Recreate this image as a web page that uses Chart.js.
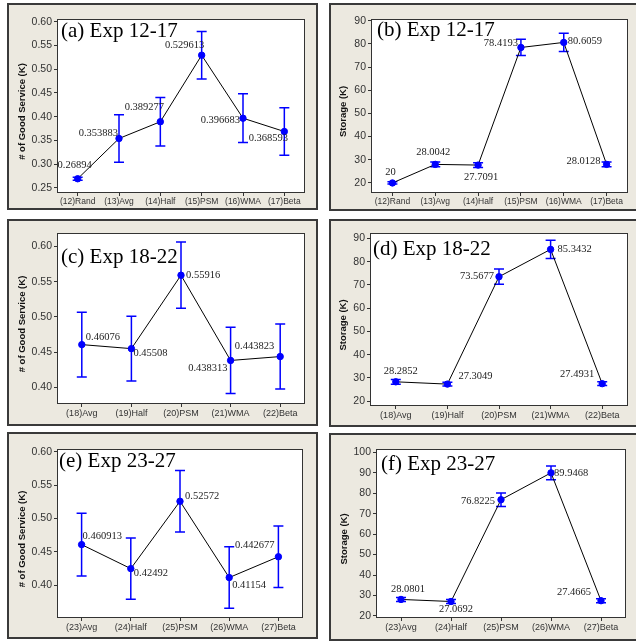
<!DOCTYPE html>
<html>
<head>
<meta charset="utf-8">
<script src="https://cdn.jsdelivr.net/npm/chart.js@4.4.0/dist/chart.umd.min.js"></script>
<style>
html, body { margin: 0; padding: 0; background: #fff; overflow: hidden; width: 636px; height: 641px; }
.panel { position: absolute; box-sizing: border-box; background: #ece9e0; border: 2px solid #3a3a3a; }
.panel canvas { position: absolute; left: 0; top: 0; }
</style>
</head>
<body>
<div id="pa" class="panel"><canvas></canvas></div>
<div id="pb" class="panel"><canvas></canvas></div>
<div id="pc" class="panel"><canvas></canvas></div>
<div id="pd" class="panel"><canvas></canvas></div>
<div id="pe" class="panel"><canvas></canvas></div>
<div id="pf" class="panel"><canvas></canvas></div>
<script>
// categories
const cats1217 = ['(12)Rand', '(13)Avg', '(14)Half', '(15)PSM', '(16)WMA', '(17)Beta'];
const cats1822 = ['(18)Avg', '(19)Half', '(20)PSM', '(21)WMA', '(22)Beta'];
const cats2327 = ['(23)Avg', '(24)Half', '(25)PSM', '(26)WMA', '(27)Beta'];

// exp 12-17
const good1217 = [0.26894, 0.353883, 0.389277, 0.529613, 0.396683, 0.368593];
const goodErr1217 = [0.003, 0.05, 0.051, 0.05, 0.0515, 0.05];
const stor1217 = [20, 28.0042, 27.7091, 78.4193, 80.6059, 28.0128];
const storErr1217 = [0.5, 1, 1, 3.5, 3.9, 1];

// exp 18-22
const good1822 = [0.46076, 0.45508, 0.55916, 0.438313, 0.443823];
const goodErr1822 = [0.046, 0.046, 0.047, 0.047, 0.046];
const stor1822 = [28.2852, 27.3049, 73.5677, 85.3432, 27.4931];
const storErr1822 = [1, 0.8, 3.3, 3.9, 0.8];

// exp 23-27
const good2327 = [0.460913, 0.42492, 0.52572, 0.41154, 0.442677];
const goodErr2327 = [0.047, 0.046, 0.046, 0.046, 0.046];
const stor2327 = [28.0801, 27.0692, 76.8225, 89.9468, 27.4665];
const storErr2327 = [1, 1, 3.3, 3.4, 1];

// tick labels
const ticksGoodA = [0.25, 0.30, 0.35, 0.40, 0.45, 0.50, 0.55, 0.60];
const ticksGood = [0.40, 0.45, 0.50, 0.55, 0.60];
const ticksStor90 = [20, 30, 40, 50, 60, 70, 80, 90];
const ticksStor100 = [20, 30, 40, 50, 60, 70, 80, 90, 100];

const sans = '"Liberation Sans", Arial, sans-serif';
const serif = '"Liberation Serif", "Times New Roman", serif';

const extras = {
  id: 'extras',
  beforeDraw(chart) {
    const a = chart.chartArea, ctx = chart.ctx;
    ctx.save();
    ctx.fillStyle = '#fff';
    ctx.fillRect(a.left, a.top, a.right - a.left, a.bottom - a.top);
    ctx.restore();
  },
  beforeDatasetsDraw(chart) {
    const o = chart.options.plugins.extras;
    const ctx = chart.ctx, x = chart.scales.x, y = chart.scales.y;
    ctx.save();
    ctx.strokeStyle = '#0000ff';
    ctx.lineWidth = 1.5;
    o.vals.forEach((v, i) => {
      const px = x.getPixelForValue(i);
      const hi = y.getPixelForValue(v + o.err[i]);
      const lo = y.getPixelForValue(v - o.err[i]);
      ctx.beginPath();
      ctx.moveTo(px, hi); ctx.lineTo(px, lo);
      ctx.moveTo(px - 5, hi); ctx.lineTo(px + 5, hi);
      ctx.moveTo(px - 5, lo); ctx.lineTo(px + 5, lo);
      ctx.stroke();
    });
    ctx.restore();
  },
  afterDraw(chart) {
    const o = chart.options.plugins.extras;
    const ctx = chart.ctx, a = chart.chartArea, x = chart.scales.x, y = chart.scales.y;
    ctx.save();
    // plot frame
    ctx.strokeStyle = '#333';
    ctx.lineWidth = 1;
    ctx.strokeRect(Math.round(a.left) + 0.5, Math.round(a.top) + 0.5,
      Math.round(a.right - a.left) - 1, Math.round(a.bottom - a.top));
    // value labels
    ctx.fillStyle = '#222';
    ctx.font = '10.5px ' + serif;
    ctx.textBaseline = 'middle';
    o.vals.forEach((v, i) => {
      const p = o.labPos[i];
      ctx.textAlign = p[0] === 'l' ? 'left' : p[0] === 'r' ? 'right' : 'center';
      ctx.fillText(String(v), x.getPixelForValue(i) + p[1], y.getPixelForValue(v) + p[2]);
    });
    // panel title
    ctx.fillStyle = '#000';
    ctx.font = '21px ' + serif;
    ctx.textAlign = 'left';
    ctx.textBaseline = 'alphabetic';
    ctx.fillText(o.title, a.left + o.titlePos[0], a.top + o.titlePos[1]);
    // y axis title
    ctx.fillStyle = '#111';
    ctx.font = 'bold 9.5px ' + sans;
    ctx.textAlign = 'center';
    ctx.textBaseline = 'middle';
    ctx.translate(o.yTitleX, (a.top + a.bottom) / 2 + 6);
    ctx.rotate(-Math.PI / 2);
    ctx.fillText(o.yTitle, 0, 0);
    ctx.restore();
  }
};

function makePanel(id, box, area, o) {
  const div = document.getElementById('p' + id);
  div.style.left = box.x + 'px';
  div.style.top = box.y + 'px';
  div.style.width = box.w + 'px';
  div.style.height = box.h + 'px';
  const cw = box.w - 4, ch = box.h - 4;
  const ox = box.x + 2, oy = box.y + 2;
  const L = area.l - ox, R = area.r - ox, T = area.t - oy, B = area.b - oy;
  const canvas = div.querySelector('canvas');
  canvas.width = cw;
  canvas.height = ch;
  o.yTitleX -= ox;
  new Chart(canvas, {
    type: 'line',
    data: {
      labels: o.cats,
      datasets: [{
        data: o.vals,
        borderColor: '#000',
        borderWidth: 1,
        tension: 0,
        pointRadius: 3.2,
        pointBackgroundColor: '#0000ff',
        pointBorderColor: '#0000ff'
      }]
    },
    options: {
      responsive: false,
      animation: false,
      devicePixelRatio: 1,
      layout: { padding: { left: 0, top: T, right: cw - R, bottom: 0 } },
      plugins: { legend: { display: false }, tooltip: { enabled: false }, extras: o },
      scales: {
        x: {
          type: 'category',
          offset: true,
          grid: { offset: false, drawOnChartArea: false, tickLength: 4, color: '#333' },
          border: { display: false },
          ticks: { font: { family: sans, size: o.xFont }, color: '#333', padding: 1, maxRotation: 0, autoSkip: false },
          afterFit: s => { s.height = ch - B; }
        },
        y: {
          min: o.min, max: o.max,
          afterBuildTicks: s => { s.ticks = o.ticks.map(v => ({ value: v })); },
          grid: { drawOnChartArea: false, tickLength: 3, color: '#333' },
          border: { display: false },
          ticks: { font: { family: sans, size: 10.5 }, color: '#333', padding: 2, callback: v => o.fmt(v) },
          afterFit: s => { s.width = L; }
        }
      }
    },
    plugins: [extras]
  });
}

const fmt2 = v => v.toFixed(2);
const fmt0 = v => String(Math.round(v));

makePanel('a', { x: 7, y: 3, w: 311, h: 207 }, { l: 57, r: 305, t: 19, b: 192 }, {
  cats: cats1217, vals: good1217, err: goodErr1217, min: 0.241, max: 0.606, ticks: ticksGoodA, fmt: fmt2,
  title: '(a) Exp 12-17', titlePos: [4, 18], yTitle: '# of Good Service (K)', yTitleX: 22, xFont: 8.5,
  labPos: [['c', -3, -14], ['r', -1, -5], ['c', -16, -14], ['c', -17, -10], ['r', -3, 2], ['c', -16, 7]]
});
makePanel('b', { x: 329, y: 3, w: 312, h: 208 }, { l: 371, r: 628, t: 19, b: 192 }, {
  cats: cats1217, vals: stor1217, err: storErr1217, min: 16.1, max: 90.7, ticks: ticksStor90, fmt: fmt0,
  title: '(b) Exp 12-17', titlePos: [6, 17], yTitle: 'Storage (K)', yTitleX: 343, xFont: 8.5,
  labPos: [['c', -2, -11], ['c', -2, -12], ['c', 3, 12], ['r', -3, -4], ['l', 4, -1], ['r', -6, -3]]
});
makePanel('c', { x: 7, y: 219, w: 311, h: 207 }, { l: 57, r: 305, t: 233, b: 403 }, {
  cats: cats1822, vals: good1822, err: goodErr1822, min: 0.378, max: 0.619, ticks: ticksGood, fmt: fmt2,
  title: '(c) Exp 18-22', titlePos: [4, 30], yTitle: '# of Good Service (K)', yTitleX: 22, xFont: 9,
  labPos: [['l', 4, -7], ['l', 2, 5], ['l', 5, 0], ['r', -3, 8], ['r', -6, -10]]
});
makePanel('d', { x: 329, y: 219, w: 312, h: 208 }, { l: 370, r: 628, t: 233, b: 405 }, {
  cats: cats1822, vals: stor1822, err: storErr1822, min: 18.3, max: 92.4, ticks: ticksStor90, fmt: fmt0,
  title: '(d) Exp 18-22', titlePos: [3, 22], yTitle: 'Storage (K)', yTitleX: 343, xFont: 9,
  labPos: [['c', 5, -11], ['l', 11, -8], ['r', -5, 0], ['l', 7, 0], ['r', -8, -9]]
});
makePanel('e', { x: 7, y: 432, w: 311, h: 207 }, { l: 57, r: 303, t: 449, b: 617 }, {
  cats: cats2327, vals: good2327, err: goodErr2327, min: 0.3525, max: 0.604, ticks: ticksGood, fmt: fmt2,
  title: '(e) Exp 23-27', titlePos: [2, 18], yTitle: '# of Good Service (K)', yTitleX: 22, xFont: 9,
  labPos: [['l', 1, -8], ['l', 3, 5], ['l', 5, -5], ['l', 3, 8], ['r', -4, -12]]
});
makePanel('f', { x: 329, y: 433, w: 312, h: 208 }, { l: 376, r: 626, t: 449, b: 617 }, {
  cats: cats2327, vals: stor2327, err: storErr2327, min: 19.5, max: 101.6, ticks: ticksStor100, fmt: fmt0,
  title: '(f) Exp 23-27', titlePos: [5, 21], yTitle: 'Storage (K)', yTitleX: 344, xFont: 9,
  labPos: [['c', 7, -10], ['c', 5, 8], ['r', -6, 2], ['l', 3, 0], ['r', -10, -8]]
});
</script>
</body>
</html>
